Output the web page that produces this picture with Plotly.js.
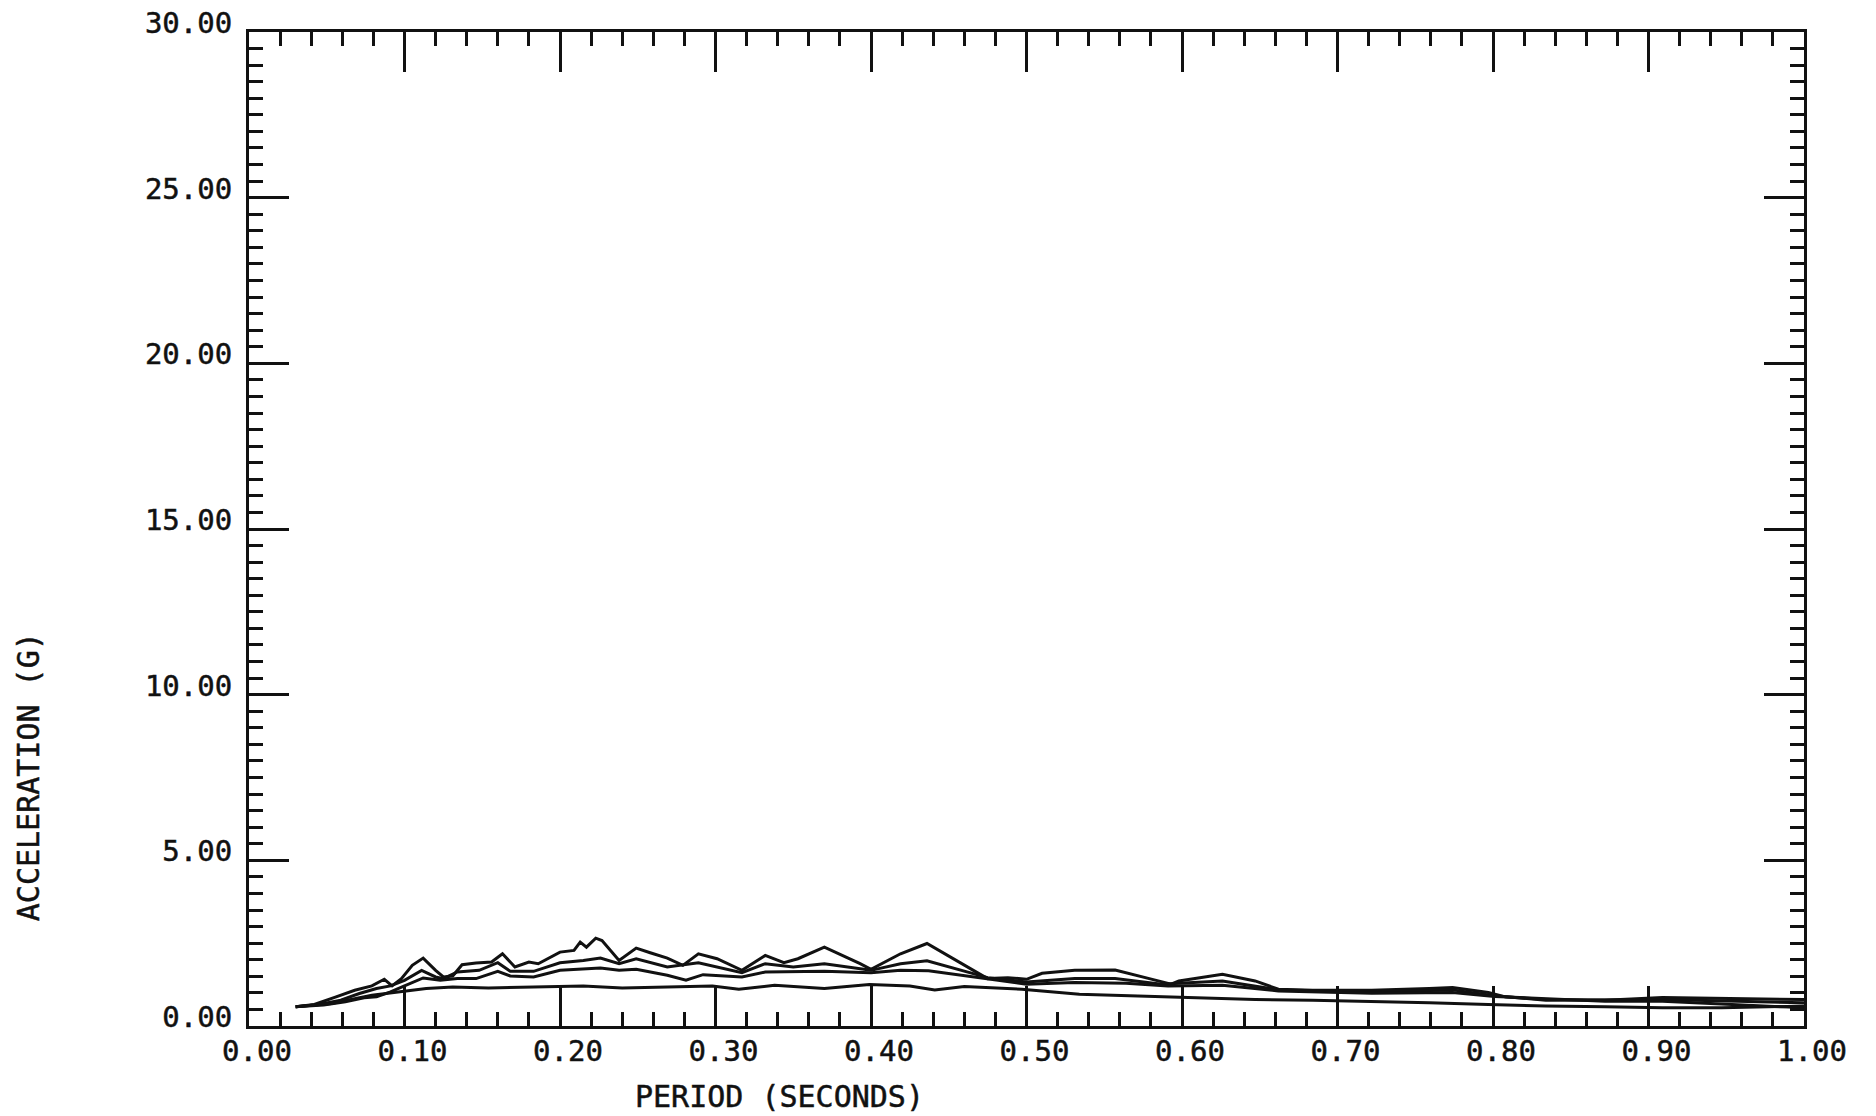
<!DOCTYPE html>
<html>
<head>
<meta charset="utf-8">
<script src="https://cdn.plot.ly/plotly-3.0.1.min.js"></script>
<style>
html,body{margin:0;padding:0;background:#fff;}
#chart{width:1876px;height:1116px;}
#chart text{stroke:#111;stroke-width:0.5px;}
</style>
</head>
<body>
<div id="chart"></div>
<script>
// Curve 1 (upper envelope)
const period1 = [0.030,0.042,0.056,0.068,0.079,0.087,0.092,0.098,0.105,0.112,0.120,0.125,0.131,0.137,0.146,0.156,0.163,0.171,0.180,0.186,0.200,0.209,0.213,0.217,0.223,0.227,0.238,0.249,0.258,0.269,0.279,0.289,0.301,0.317,0.332,0.344,0.353,0.370,0.393,0.400,0.419,0.436,0.475,0.488,0.500,0.510,0.531,0.557,0.579,0.593,0.598,0.626,0.647,0.662,0.684,0.722,0.759,0.774,0.797,0.808,0.834,0.872,0.909,0.947,1.000];
const accel1 = [0.58,0.65,0.88,1.08,1.21,1.41,1.21,1.43,1.83,2.05,1.68,1.48,1.51,1.85,1.90,1.93,2.18,1.78,1.93,1.88,2.23,2.28,2.53,2.38,2.65,2.58,1.98,2.35,2.21,2.05,1.83,2.18,2.03,1.68,2.13,1.91,2.03,2.38,1.88,1.71,2.18,2.49,1.43,1.46,1.41,1.59,1.68,1.69,1.43,1.26,1.36,1.56,1.36,1.11,1.08,1.08,1.13,1.16,1.01,0.88,0.80,0.78,0.86,0.84,0.80];
// Curve 2
const period2 = [0.030,0.045,0.059,0.071,0.082,0.091,0.100,0.111,0.120,0.125,0.134,0.148,0.160,0.168,0.183,0.200,0.215,0.226,0.238,0.249,0.269,0.289,0.317,0.332,0.350,0.370,0.400,0.419,0.436,0.475,0.500,0.531,0.557,0.587,0.598,0.626,0.662,0.722,0.774,0.801,0.834,0.909,1.000];
const accel2 = [0.58,0.65,0.78,0.98,1.13,1.21,1.38,1.68,1.48,1.43,1.63,1.68,1.91,1.65,1.65,1.91,1.98,2.05,1.88,2.03,1.78,1.91,1.61,1.88,1.78,1.88,1.68,1.88,1.97,1.46,1.33,1.43,1.43,1.26,1.29,1.36,1.09,1.03,1.09,0.91,0.78,0.80,0.70];
// Curve 3
const period3 = [0.030,0.048,0.062,0.074,0.082,0.091,0.100,0.112,0.123,0.134,0.146,0.160,0.168,0.183,0.200,0.215,0.226,0.238,0.249,0.269,0.281,0.292,0.317,0.332,0.353,0.370,0.400,0.419,0.437,0.475,0.500,0.531,0.564,0.591,0.626,0.662,0.722,0.774,0.801,0.872,0.909,1.000];
const accel3 = [0.58,0.63,0.73,0.85,0.88,1.03,1.21,1.45,1.38,1.43,1.43,1.65,1.51,1.48,1.68,1.71,1.75,1.68,1.71,1.53,1.38,1.55,1.48,1.63,1.63,1.65,1.61,1.68,1.67,1.41,1.26,1.31,1.29,1.21,1.23,1.06,0.99,1.01,0.89,0.75,0.75,0.55];
// Curve 4 (smooth lower)
const period4 = [0.030,0.053,0.079,0.100,0.114,0.131,0.154,0.183,0.215,0.240,0.269,0.298,0.315,0.338,0.370,0.399,0.425,0.441,0.460,0.497,0.534,0.572,0.609,0.647,0.684,0.722,0.759,0.797,0.834,0.872,0.909,0.947,1.000];
const accel4 = [0.58,0.68,0.93,1.05,1.13,1.18,1.15,1.18,1.21,1.15,1.18,1.21,1.11,1.23,1.13,1.25,1.21,1.09,1.19,1.11,0.96,0.91,0.86,0.80,0.78,0.75,0.70,0.65,0.60,0.58,0.55,0.55,0.60];

const xTitle = "PERIOD (SECONDS)";
const yTitle = "ACCELERATION (G)";

const FONT = "DejaVu Sans Mono, Liberation Mono, monospace";
const series = [[period1, accel1],[period2, accel2],[period3, accel3],[period4, accel4]];
const traces = series.map(([x, y]) => ({
  x: x, y: y, type: 'scatter', mode: 'lines',
  line: {color: '#111', width: 3},
  hoverinfo: 'skip', showlegend: false
}));

const axisCommon = {
  showline: true, linecolor: '#111', linewidth: 3, mirror: 'allticks',
  showgrid: false, zeroline: false,
  ticks: 'inside', tickcolor: '#111', tickwidth: 3, ticklen: 40,
  tickformat: '.2f',
  tickfont: {family: FONT, size: 29, color: '#111'}
};

const layout = {
  width: 1876, height: 1116,
  margin: {l: 249, r: 72, t: 32, b: 90},
  paper_bgcolor: '#fff', plot_bgcolor: '#fff',
  showlegend: false,
  xaxis: Object.assign({}, axisCommon, {
    range: [0, 1], tick0: 0, dtick: 0.1,
    ticklabelstandoff: -3, ticklabelshift: 8,
    minor: {dtick: 0.02, ticks: 'inside', ticklen: 14, tickwidth: 3, tickcolor: '#111', showgrid: false}
  }),
  yaxis: Object.assign({}, axisCommon, {
    range: [0, 30], tick0: 0, dtick: 5,
    ticklabelstandoff: 8, ticklabelshift: -9,
    minor: {dtick: 0.5, ticks: 'inside', ticklen: 14, tickwidth: 3, tickcolor: '#111', showgrid: false}
  }),
  annotations: [
    {text: xTitle, xref: 'paper', yref: 'paper', x: 0.341, y: -0.0714,
     xanchor: 'center', yanchor: 'middle', showarrow: false,
     font: {family: FONT, size: 30, color: '#111'}},
    {text: yTitle, xref: 'paper', yref: 'paper', x: -0.142, y: 0.2505,
     xanchor: 'center', yanchor: 'middle', showarrow: false, textangle: -90,
     font: {family: FONT, size: 30, color: '#111'}}
  ]
};

Plotly.newPlot('chart', traces, layout, {displayModeBar: false, staticPlot: true});
</script>
</body>
</html>
